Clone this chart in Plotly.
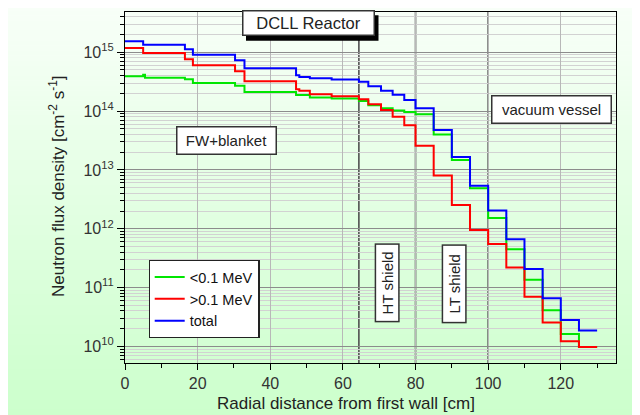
import plotly.graph_objects as go

# Bin edges (radial distance from first wall, cm)
edges = [0, 5, 5.5, 16.5, 18.7, 30.3, 32.9, 47.1, 48, 50.9, 56.9, 64.4, 67, 70.5,
         73.7, 76.9, 80, 85, 90, 95, 100, 105, 110, 115, 120, 125, 130]

# Neutron flux density per bin [cm^-2 s^-1]
flux_low = [3.92e14, 4.15e14, 3.69e14, 3.48e14, 3.01e14, 2.70e14, 2.12e14, 1.87e14,
            1.87e14, 1.70e14, 1.64e14, 1.48e14, 1.26e14, 1.12e14, 1.02e14, 9.6e13,
            8.8e13, 4.0e13, 1.47e13, 4.9e12, 1.53e12, 4.5e11, 1.36e11, 4.1e10,
            1.62e10, 9.8e9]
flux_high = [1.18e15, 9.7e14, 9.7e14, 7.6e14, 6.0e14, 4.76e14, 3.22e14, 2.36e14,
             2.21e14, 1.94e14, 1.79e14, 1.59e14, 1.30e14, 1.04e14, 8.0e13, 5.77e13,
             2.57e13, 8.0e12, 2.54e12, 9.5e11, 5.5e11, 2.19e11, 7.0e10, 2.55e10,
             1.22e10, 9.8e9]
flux_total = [1.54e15, 1.34e15, 1.34e15, 1.12e15, 9.1e14, 7.3e14, 5.35e14, 4.07e14,
              3.81e14, 3.62e14, 3.44e14, 3.16e14, 2.65e14, 2.22e14, 1.89e14, 1.55e14,
              1.12e14, 4.75e13, 1.65e13, 5.4e12, 2.05e12, 6.6e11, 2.06e11, 6.6e10,
              2.8e10, 1.87e10]

series_names = ["<0.1 MeV", ">0.1 MeV", "total"]
series_colors = ["#00e600", "#ff0000", "#0000ff"]

zone_boundaries = [64.4, 80, 100]

x_ticks = [0, 20, 40, 60, 80, 100, 120]
y_tick_vals = [1e10, 1e11, 1e12, 1e13, 1e14, 1e15]
y_tick_text = ["10<sup>10</sup>", "10<sup>11</sup>", "10<sup>12</sup>",
               "10<sup>13</sup>", "10<sup>14</sup>", "10<sup>15</sup>"]
y_minor_vals = [m * 10.0 ** d for d in range(9, 16) for m in range(2, 10)
                if 5.2e9 <= m * 10.0 ** d <= 4.8e15]

FONT = "Liberation Sans, Arial, sans-serif"

fig = go.Figure()
for name, color, vals in zip(series_names, series_colors,
                             [flux_low, flux_high, flux_total]):
    fig.add_trace(go.Scatter(
        x=edges, y=vals + [vals[-1]], mode="lines", name=name,
        line=dict(color=color, width=2, shape="hv")))

# page offset (browser body margin) and plot-area geometry in window pixels
OFF = 8
FIG_W, FIG_H = 640 - OFF, 415 - OFF
L, R, T, B = 125, 616, 11.7, 363.3
W, H = R - L, B - T


def px(xp):
    return (xp - L) / W


def py(yp):
    return (B - yp) / H


shapes = []
# green gradient background
n = 84
for i in range(n):
    y0p = 5 + i * 5
    y1p = y0p + 5
    t = min(i / 81, 1.0)
    r = int(round(248 - t * (248 - 204)))
    shapes.append(dict(type="rect", xref="paper", yref="paper",
                       x0=px(5), x1=px(640), y0=py(y1p + 0.5), y1=py(y0p),
                       fillcolor=f"rgb({r},255,{r})", line=dict(width=0),
                       layer="below"))
for xb in zone_boundaries:
    shapes.append(dict(type="line", xref="x", yref="paper", x0=xb, x1=xb,
                       y0=0, y1=1, line=dict(color="#505050", width=1.6),
                       layer="between"))
# shadow of the title box
shapes.append(dict(type="rect", xref="paper", yref="paper",
                   x0=px(246), x1=px(378.5), y0=py(40.5), y1=py(15),
                   fillcolor="black", line=dict(width=0), layer="above"))

annotations = []


def box(text, cx, cy, w, h, angle=0, size=15):
    return dict(text=text, xref="paper", yref="paper", x=px(cx), y=py(cy),
                showarrow=False, xanchor="center", yanchor="middle",
                font=dict(family=FONT, size=size, color="#222"),
                bgcolor="white", bordercolor="#333", borderwidth=1.5,
                borderpad=1, width=w, height=h, textangle=angle)


annotations.append(box("DCLL Reactor", 308, 22.5, 128, 21, size=16.5))
annotations.append(box("FW+blanket", 226.7, 140.8, 96, 24, size=15))
annotations.append(box("vacuum vessel", 551.8, 109.8, 116, 24, size=15))
annotations.append(box("HT shield", 387, 283.5, 74, 20, angle=-90, size=15))
annotations.append(box("LT shield", 454, 284.5, 74, 20, angle=-90, size=15))

# axis titles
annotations.append(dict(text="Radial distance from first wall [cm]", xref="paper",
                        yref="paper", x=px(346), y=py(404), showarrow=False,
                        xanchor="center", yanchor="middle",
                        font=dict(family=FONT, size=17, color="#222")))
annotations.append(dict(text="Neutron flux density [cm<sup>-2</sup> s<sup>-1</sup>]",
                        xref="paper", yref="paper", x=px(57), y=py(187),
                        showarrow=False, xanchor="center", yanchor="middle",
                        textangle=-90,
                        font=dict(family=FONT, size=17, color="#222")))

fig.update_layout(
    width=FIG_W, height=FIG_H,
    margin=dict(l=L - OFF, r=640 - R, t=T - OFF, b=FIG_H - (B - OFF),
                autoexpand=False),
    paper_bgcolor="white", plot_bgcolor="rgba(0,0,0,0)",
    font=dict(family=FONT, size=14, color="#333"),
    shapes=shapes, annotations=annotations,
    legend=dict(x=px(148.5), y=py(260), xanchor="left", yanchor="top",
                bgcolor="white", bordercolor="#222", borderwidth=1.2,
                font=dict(family=FONT, size=14.5, color="#111"),
                tracegroupgap=0, itemwidth=30),
    showlegend=True,
)
fig.update_xaxes(
    automargin=False,
    range=[0, 135.2], tickmode="array", tickvals=x_ticks,
    ticks="outside", ticklen=6, tickcolor="black", tickwidth=1,
    showline=True, linecolor="black", linewidth=1.2, mirror=True,
    showgrid=True, gridcolor="#b8b8b8", gridwidth=1, zeroline=False,
    tickfont=dict(family=FONT, size=16, color="#333"),
    minor=dict(dtick=10, ticks="outside", ticklen=4, tickcolor="black", showgrid=False),
)
fig.update_yaxes(
    automargin=False,
    type="log", range=[9.718, 15.684], tickmode="array", tickvals=y_tick_vals,
    ticktext=y_tick_text, ticks="outside", ticklen=7, tickcolor="black",
    showline=True, linecolor="black", linewidth=1.2, mirror=True,
    showgrid=True, gridcolor="#8c8c8c", gridwidth=1, zeroline=False,
    tickfont=dict(family=FONT, size=16, color="#333"),
    minor=dict(tickmode="array", tickvals=y_minor_vals, ticks="outside", ticklen=4,
               tickcolor="black", showgrid=True, gridcolor="#d2d2d2", gridwidth=1),
)

fig.write_html("out.html")
